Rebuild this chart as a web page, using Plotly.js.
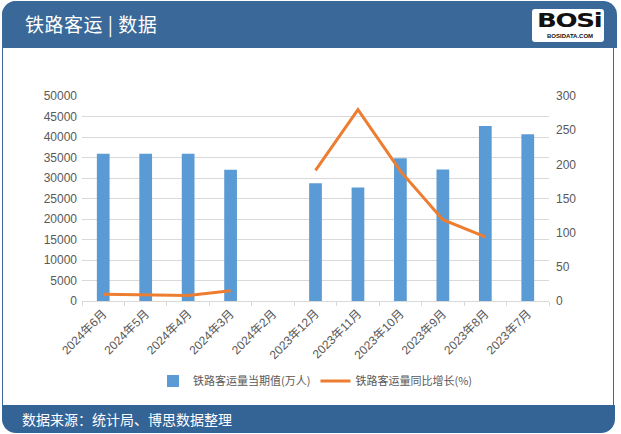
<!DOCTYPE html>
<html>
<head>
<meta charset="utf-8">
<script src="https://cdn.plot.ly/plotly-3.0.1.min.js"></script>
<style>
  html, body { margin: 0; padding: 0; background: #ffffff; }
  #wrap { position: relative; width: 621px; height: 434px; overflow: hidden; background: #fff; font-family: "Noto Sans CJK SC", sans-serif; }
  #frame { position: absolute; left: 2px; top: 1px; width: 612px; height: 430px; border: 1.5px solid #3d6a99; border-radius: 14px; box-sizing: border-box; }
  #header { position: absolute; left: 2px; top: 1px; width: 615px; height: 47px; background: #3a6898; border-radius: 14px 14px 0 0; }
  #header .t { position: absolute; left: 23px; top: 11px; color: #fff; font-size: 19px; line-height: 24px; letter-spacing: 0.5px; }
  #logo { position: absolute; left: 530px; top: 8px; width: 72px; height: 33px; background: #fff; border-radius: 3px; }
  #logo .b { position: absolute; left: 5px; top: 1px; font-family: "DejaVu Sans", sans-serif; font-weight: 900; font-size: 20px; line-height: 20px; letter-spacing: -1px; color: #111; transform: scaleX(1.3); transform-origin: left top; }
  #logo .s { position: absolute; left: 15px; top: 24px; font-family: "Liberation Sans", sans-serif; font-size: 6px; line-height: 7px; color: #111; font-weight: bold; }
  #footer { position: absolute; left: 2px; top: 405px; width: 613px; height: 28px; background: #346396; border-radius: 0 0 14px 14px; }
  #footer .t { position: absolute; left: 20px; top: 4px; color: #fff; font-size: 14px; line-height: 20px; }
  #chart { position: absolute; left: 0; top: 0; width: 621px; height: 434px; }
</style>
</head>
<body>
<div id="wrap">
  <div id="frame"></div>
  <div id="header"><div class="t">铁路客运 | 数据</div>
    <div id="logo"><div class="b">BOSi</div><div class="s">BOSIDATA.COM</div></div>
  </div>
  <div id="footer"><div class="t">数据来源：统计局、博思数据整理</div></div>
  <div id="chart"></div>
</div>
<script>
const categories = ["2024年6月","2024年5月","2024年4月","2024年3月","2024年2月","2023年12月","2023年11月","2023年10月","2023年9月","2023年8月","2023年7月"];
const volume = [35900, 35900, 35900, 32000, null, 28700, 27700, 34800, 32100, 42700, 40700];
const growth = [10, 9.5, 8, 15, null, 191, 280, 190, 119, 94, null];
const seriesNames = ["铁路客运量当期值(万人)", "铁路客运量同比增长(%)"];

const tickFont = { family: "Liberation Sans, Noto Sans CJK SC, sans-serif", size: 12, color: "#595959" };
const xTickFont = { family: "Liberation Sans, Noto Sans CJK SC, sans-serif", size: 12, color: "#595959" };

const traces = [
  { type: "bar", x: categories, y: volume, name: seriesNames[0], marker: { color: "#5b9bd5" }, yaxis: "y" },
  { type: "scatter", mode: "lines", x: categories, y: growth, name: seriesNames[1], line: { color: "#ed7d31", width: 3 }, connectgaps: false, yaxis: "y2" }
];

const layout = {
  width: 621, height: 434,
  margin: { l: 82, r: 72, t: 96, b: 133 },
  paper_bgcolor: "rgba(0,0,0,0)",
  plot_bgcolor: "rgba(0,0,0,0)",
  bargap: 0.7,
  showlegend: true,
  legend: { orientation: "h", x: 0.5, xanchor: "center", y: -0.39, yanchor: "middle", font: { family: "Noto Sans CJK SC, sans-serif", size: 11, color: "#595959" }, bgcolor: "rgba(0,0,0,0)", itemwidth: 30 },
  xaxis: { type: "category", tickangle: -45, tickfont: xTickFont, showline: true, linecolor: "#d9d9d9", linewidth: 1, ticks: "outside", tickson: "boundaries", ticklen: 4, tickcolor: "#d9d9d9", showgrid: false, zeroline: false },
  yaxis: { range: [0, 50000], dtick: 5000, tickformat: "d", tickfont: tickFont, showgrid: true, gridcolor: "#d9d9d9", gridwidth: 1, zeroline: false, showline: false, ticks: "", ticklabelstandoff: 4 },
  yaxis2: { range: [0, 300], dtick: 50, tickformat: "d", overlaying: "y", side: "right", tickfont: tickFont, showgrid: false, zeroline: false, showline: false, ticks: "", ticklabelstandoff: 6 },
  font: { family: "Noto Sans CJK SC, sans-serif" }
};

Plotly.newPlot("chart", traces, layout, { displayModeBar: false, staticPlot: true });
</script>
</body>
</html>
